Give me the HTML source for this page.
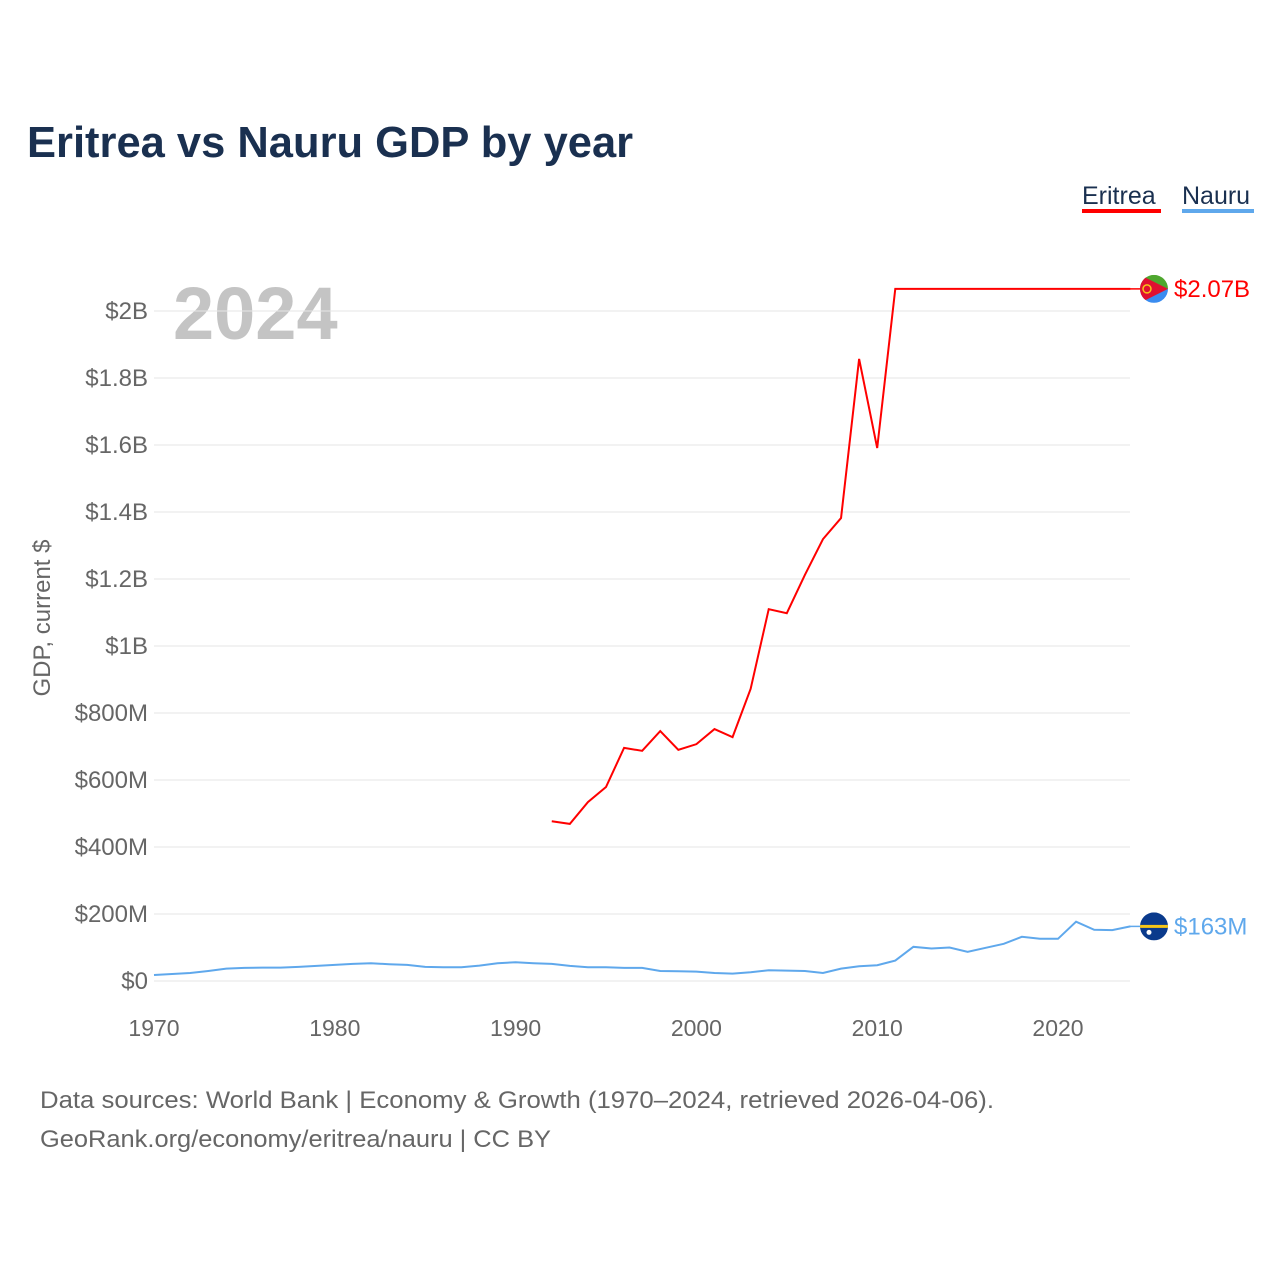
<!DOCTYPE html>
<html><head><meta charset="utf-8"><style>
body{margin:0;background:#fff;font-family:"Liberation Sans",sans-serif}
svg text{font-family:"Liberation Sans",sans-serif}
</style></head><body>
<svg id="c" width="1280" height="1280" viewBox="0 0 1280 1280">
<text x="27" y="157" font-size="43.5" font-weight="bold" fill="#1a3050">Eritrea vs Nauru GDP by year</text>
<g><text x="1082" y="204" font-size="25" fill="#1a3050">Eritrea</text><rect x="1082" y="209" width="79" height="4" fill="#ff0000"/></g>
<g><text x="1182" y="204" font-size="25" fill="#1a3050">Nauru</text><rect x="1182" y="209" width="72" height="4" fill="#5fa8ec"/></g>
<text x="173" y="339" font-size="74" font-weight="bold" fill="#c4c4c4">2024</text>
<text transform="translate(50,618) rotate(-90)" text-anchor="middle" font-size="24" fill="#666">GDP, current $</text>
<g id="grid"></g><g id="xt"></g><g id="series"></g>
<text x="40" y="1108" font-size="24" fill="#666" textLength="954" lengthAdjust="spacingAndGlyphs">Data sources: World Bank | Economy &amp; Growth (1970–2024, retrieved 2026-04-06).</text>
<text x="40" y="1147" font-size="24" fill="#666" textLength="511" lengthAdjust="spacingAndGlyphs">GeoRank.org/economy/eritrea/nauru | CC BY</text>
</svg>
<script>
const yTicks=[0,200,400,600,800,1000,1200,1400,1600,1800,2000];
const yTickLabels=["$0","$200M","$400M","$600M","$800M","$1B","$1.2B","$1.4B","$1.6B","$1.8B","$2B"];
const xTicks=[1970,1980,1990,2000,2010,2020];
const eritreaYears=[1992,1993,1994,1995,1996,1997,1998,1999,2000,2001,2002,2003,2004,2005,2006,2007,2008,2009,2010,2011,2012,2013,2014,2015,2016,2017,2018,2019,2020,2021,2022,2023,2024];
const eritreaValues=[477,469,534,579,696,687,746,690,707,752,728,872,1110,1098,1212,1319,1382,1857,1591,2066,2066,2066,2066,2066,2066,2066,2066,2066,2066,2066,2066,2066,2066];
const nauruStart=1970;
const nauruValues=[18,21,24,30,37,39,40,40,42,45,48,51,53,50,48,42,41,41,46,53,56,53,51,45,41,41,39,39,30,29,28,24,22,26,32,31,30,24,37,44,47,61,102,97,100,87,99,111,132,126,126,177,153,152,163];
const ns="http://www.w3.org/2000/svg";
const X=y=>154+(y-1970)*(1058-154)/50;
const Y=v=>981-v*(981-311)/2000;
function el(t,a,p){const e=document.createElementNS(ns,t);for(const k in a)e.setAttribute(k,a[k]);document.getElementById(p).appendChild(e);return e;}
yTicks.forEach((v,i)=>{
 const l=el('line',{x1:154,x2:1130,y1:Y(v),y2:Y(v),stroke:'#e6e6e6','stroke-width':1},'grid');
 
 
 const t=el('text',{x:148,y:Y(v)+8,'text-anchor':'end','font-size':24,fill:'#666'},'grid');
 t.textContent=yTickLabels[i];
 
 
});
xTicks.forEach(y=>{
 const t=el('text',{x:X(y),y:1036,'text-anchor':'middle','font-size':23,fill:'#666'},'xt');
 t.textContent=y;
 
 
});
const ep=eritreaYears.map((y,i)=>X(y)+','+Y(eritreaValues[i])).join(' ');
const e1=el('polyline',{points:ep,fill:'none',stroke:'#ff0000','stroke-width':2},'series');


const np=nauruValues.map((v,i)=>X(nauruStart+i)+','+Y(v)).join(' ');
const n1=el('polyline',{points:np,fill:'none',stroke:'#5fa8ec','stroke-width':2},'series');


const eLast=eritreaValues[eritreaValues.length-1], nLast=nauruValues[nauruValues.length-1];
const g=document.getElementById('series');
g.insertAdjacentHTML('beforeend',`
<line x1="1130" x2="1142" y1="${Y(eLast)}" y2="${Y(eLast)}" stroke="#ff0000" stroke-width="1.5"/>
<line x1="1130" x2="1142" y1="${Y(nLast)}" y2="${Y(nLast)}" stroke="#5fa8ec" stroke-width="1.5"/>
<g transform="translate(1154,${Y(eLast)})">
<clipPath id="ce"><circle r="14"/></clipPath><g clip-path="url(#ce)">
<rect x="-14" y="-14" width="28" height="14" fill="#4ea72e"/><rect x="-14" y="0" width="28" height="14" fill="#3a8cf0"/>
<polygon points="-14,-14 14,0 -14,14" fill="#e01030"/><circle cx="-7" cy="0" r="4" fill="none" stroke="#f5c518" stroke-width="1.5"/></g></g>
<text x="1174" y="${Y(eLast)+8}" font-size="24" fill="#ff0000">$2.07B</text>
<g transform="translate(1154,${Y(nLast)})">
<clipPath id="cn"><circle r="14"/></clipPath><g clip-path="url(#cn)">
<rect x="-14" y="-14" width="28" height="28" fill="#0a3a8c"/><rect x="-14" y="-1.5" width="28" height="3" fill="#f5c518"/><circle cx="-5" cy="6" r="2.5" fill="#fff"/></g></g>
<text x="1174" y="${Y(nLast)+8}" font-size="24" fill="#5fa8ec">$163M</text>`);
</script>
</body></html>
